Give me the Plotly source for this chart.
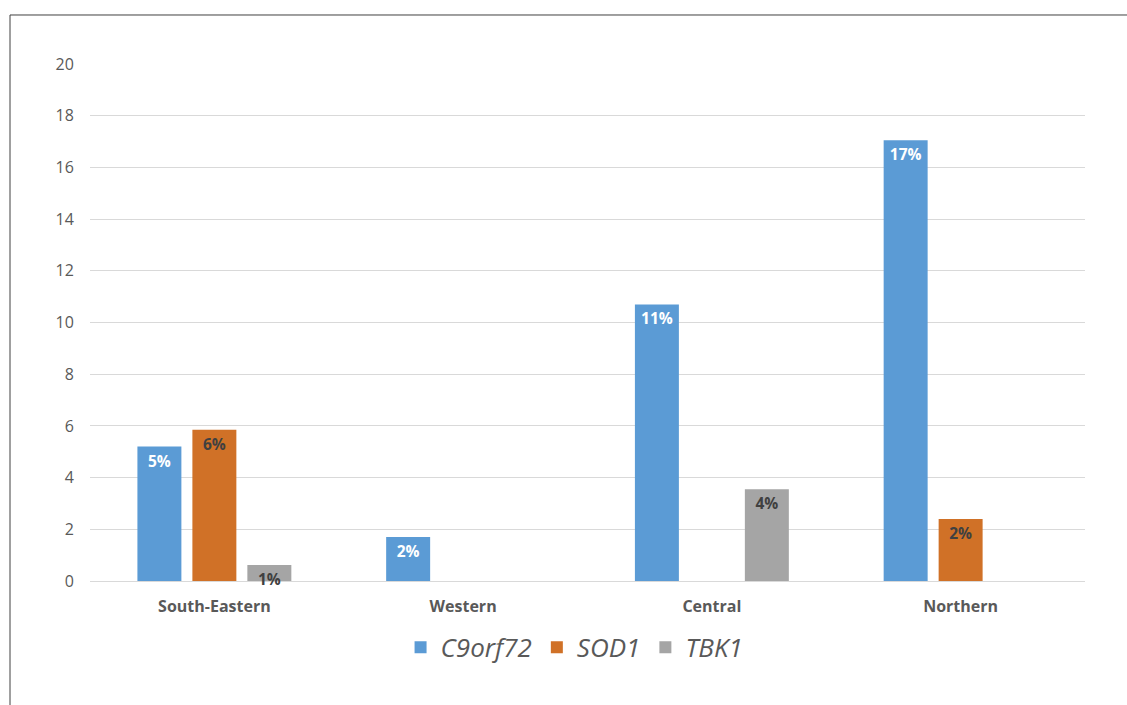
import plotly.graph_objects as go

regions = ["South-Eastern", "Western", "Central", "Northern"]
c9orf72 = [5.2, 1.7, 10.7, 17.05]
sod1 = [5.85, None, None, 2.4]
tbk1 = [0.62, None, 3.55, None]
series_names = ["C9orf72", "SOD1", "TBK1"]
colors = ["#5b9bd5", "#d07127", "#a5a5a5"]
text_colors = ["#ffffff", "#404040", "#404040"]
y_ticks = [0, 2, 4, 6, 8, 10, 12, 14, 16, 18, 20]

FONT = "Open Sans"

fig = go.Figure()
for name, vals, col, tcol in zip(series_names, [c9orf72, sod1, tbk1], colors, text_colors):
    labels = [("%d%%" % round(v)) if v is not None else "" for v in vals]
    fig.add_trace(go.Bar(
        x=regions, y=vals, name=name,
        marker=dict(color=col, line=dict(width=0)),
        text=labels, textposition="inside", insidetextanchor="end",
        constraintext="none", cliponaxis=False,
        textfont=dict(family=FONT, size=15.5, color=tcol, weight="bold"),
        textangle=0,
    ))

fig.update_layout(
    width=1127, height=705,
    margin=dict(l=90, r=42, t=64, b=124),
    paper_bgcolor="white", plot_bgcolor="white",
    barmode="group", bargap=0.337, bargroupgap=0.2,
    font=dict(family=FONT, color="#595959"),
    showlegend=True,
    legend=dict(orientation="h", x=0.487, xanchor="center", y=-0.083, yanchor="top",
                font=dict(family=FONT, size=26, color="#595959", style="italic"),
                itemwidth=30, tracegroupgap=0),
    xaxis=dict(showgrid=False, showline=False, zeroline=False,
               ticks="outside", ticklen=11, tickcolor="rgba(0,0,0,0)",
               tickfont=dict(family=FONT, size=16, color="#595959", weight="bold")),
    yaxis=dict(range=[0, 20], tickvals=y_ticks, showgrid=True, gridcolor="#d9d9d9", gridwidth=1,
               zeroline=True, zerolinecolor="#d9d9d9", zerolinewidth=1, showline=False,
               ticks="outside", ticklen=12, tickcolor="rgba(0,0,0,0)",
               tickfont=dict(family=FONT, size=16, color="#595959")),
    shapes=[dict(type="rect", xref="paper", yref="paper",
                 x0=-0.0804, x1=1.2, y0=-0.4, y1=1.0948,
                 line=dict(color="#404040", width=1), fillcolor="rgba(0,0,0,0)", layer="below")],
)

fig.write_html("out.html")
